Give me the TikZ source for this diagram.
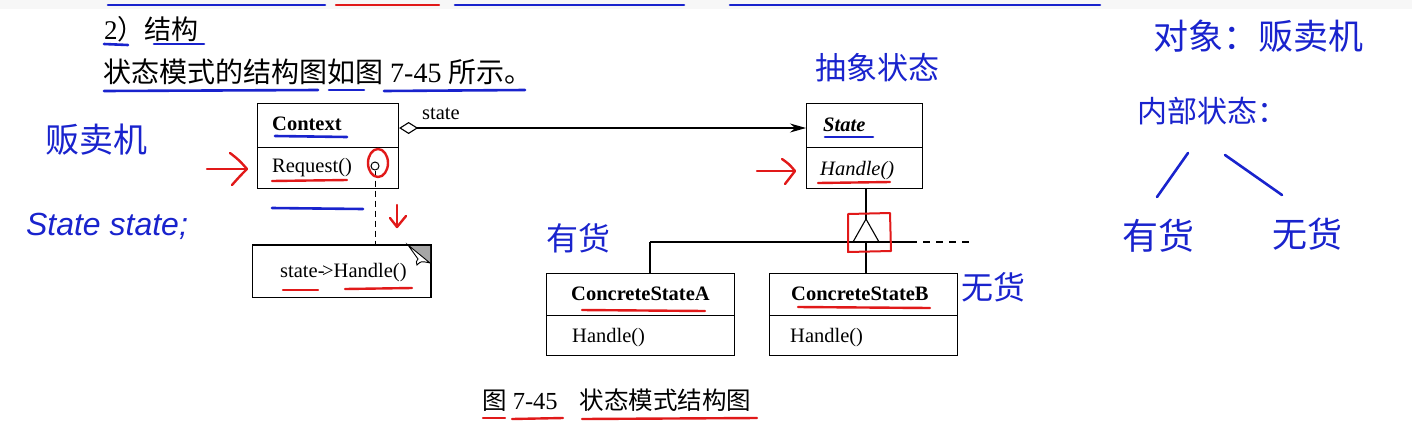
\documentclass[tikz,border=0pt]{standalone}
\usepackage{fontspec}
\setmainfont{Liberation Serif}
\newfontfamily\cjk{Noto Sans CJK SC}
\newfontfamily\handsans{Liberation Sans}
\usetikzlibrary{arrows.meta}
\definecolor{penblue}{RGB}{25,35,205}
\definecolor{penred}{RGB}{225,25,25}
\begin{document}
\begin{tikzpicture}[x=1pt,y=-1pt,
  box/.style={draw, line width=1.1pt, inner sep=0pt, anchor=north west},
  uml/.style={font=\fontsize{20.5}{24}\selectfont, inner sep=0pt, anchor=base west},
  umlline/.style={line width=1.1pt},
  bluepen/.style={draw=penblue, line width=2.6pt, line cap=round, line join=round},
  redpen/.style={draw=penred, line width=2.4pt, line cap=round, line join=round},
  htext/.style={text=penblue, font=\cjk\fontsize{#1}{#1}\selectfont, inner sep=0pt},
  booktext/.style={inner sep=0pt, anchor=base west}
]
\useasboundingbox (0,0) rectangle (1412,437);
\fill[black!3] (0,0) rectangle (1412,9);

% ---------- top pen marks ----------
\draw[bluepen] (108,5) -- (325,5);
\draw[redpen] (336,5) -- (439,5);
\draw[bluepen] (455,5) -- (684,5);
\draw[bluepen] (730,5) -- (1100,5);

% ---------- book text ----------
\node[booktext, font=\fontsize{27}{30}\selectfont] (head) at (104,39) {2{\cjk ）结构}};
\node[booktext, font=\fontsize{28}{30}\selectfont] (intro) at (103,82) {{\cjk 状态模式的结构图如图} 7-45 {\cjk 所示。}};
\draw[bluepen] (104,44) -- (128,45);
\draw[bluepen] (154,44) -- (204,44);
\draw[bluepen] (104,91) -- (318,90);
\draw[bluepen] (329,90) -- (364,90);
\draw[bluepen] (384,91) -- (525,90);

% ---------- Context ----------
\node[box, minimum width=141pt, minimum height=44pt] (ctxname) at (257,103) {};
\node[box, minimum width=141pt, minimum height=41pt] (ctxop) at (257,147) {};
\node[uml] (ctxlabel) at (272,130) {\textbf{Context}};
\node[uml] (reqlabel) at (272,172) {Request()};
\node[draw, circle, minimum size=8pt, inner sep=0pt, line width=1pt] (reqdot) at (375,166) {};

% ---------- note ----------
\node[box, minimum width=178pt, minimum height=52pt] (notebox) at (252,245) {};
\fill[gray!70] (408,245) -- (430,245) -- (430,263) -- cycle;
\filldraw[fill=white, line width=0.9pt] (408,245) -- (418,259) .. controls (416,262) .. (417,265) .. controls (421,261) .. (430,263) -- cycle;
\draw[umlline] (notebox.north west) -- (notebox.north east) -- (notebox.south east);
\node[uml] (notetext) at (280,277) {state-\kern-0.12em>Handle()};
\draw[line width=1pt, dash pattern=on 6pt off 4pt] (reqdot.south) -- (reqdot.south |- notebox.north);

% ---------- State ----------
\node[box, minimum width=116pt, minimum height=44pt] (stname) at (806,103) {};
\node[box, minimum width=116pt, minimum height=41pt] (stop) at (806,147) {};
\node[uml] (stlabel) at (823,131) {\textbf{\textit{State}}};
\node[uml] (sthandle) at (820,175) {\textit{Handle()}};

% aggregation
\coordinate (aggy) at (0,128);
\draw[umlline, {Diamond[open, length=19pt, width=12pt]}-{Stealth[length=16pt, width=9pt]}]
  (ctxname.east |- aggy) -- (stname.west |- aggy);
\node[uml] (statelbl) at (422,119) {state};

% ---------- concrete states ----------
\node[box, minimum width=188pt, minimum height=42pt] (csaname) at (546,273) {};
\node[box, minimum width=188pt, minimum height=40pt] (csaop) at (546,315) {};
\node[uml] (csalabel) at (571,300) {\textbf{ConcreteStateA}};
\node[uml] (csahandle) at (572,342) {Handle()};

\node[box, minimum width=188pt, minimum height=42pt] (csbname) at (769,273) {};
\node[box, minimum width=188pt, minimum height=40pt] (csbop) at (769,315) {};
\node[uml] (csblabel) at (791,300) {\textbf{ConcreteStateB}};
\node[uml] (csbhandle) at (790,342) {Handle()};

% generalization
\coordinate (apex) at (866,219);
\coordinate (J) at (866,242);
\coordinate (Aj) at (650,242);
\coordinate (Dend) at (910,242);
\coordinate (Dashend) at (975,242);
\draw[umlline] (stop.south -| apex) -- (apex);
\draw[umlline, line join=miter] (apex) -- ++(-13,23) -- ++(26,0) -- cycle;
\draw[umlline] (Aj) -- (Dend);
\draw[umlline, dash pattern=on 7pt off 6pt] (Dend) -- (Dashend);
\draw[umlline] (Aj) -- (Aj |- csaname.north);
\draw[umlline] (J) -- (J |- csbname.north);

% ---------- caption ----------
\node[booktext, font=\fontsize{24.5}{28}\selectfont] (caption) at (482,409) {{\cjk 图} 7-45\hspace{0.9em}{\cjk 状态模式结构图}};
\draw[redpen] (483,418) -- (505,418);
\draw[redpen] (512,419) -- (563,418);
\draw[redpen] (582,419) -- (757,418);

% ---------- pen marks on diagram ----------
\draw[bluepen] (275,136) -- (347,137);
\draw[redpen] (272,181) -- (347,180);
\draw[redpen] (378,163) ellipse [x radius=10pt, y radius=14pt];
\draw[redpen] (397,205) -- (397,227);
\draw[redpen] (390,218) -- (397,227) -- (406,216);
\draw[bluepen] (272,208) -- (363,209);
\draw[redpen] (283,290) -- (318,290);
\draw[redpen] (345,289) -- (412,288);
\draw[redpen] (207,169) -- (246,169);
\draw[redpen] (230,153) .. controls (239,160) .. (247,169) .. controls (240,176) .. (232,185);
\draw[redpen] (757,171) -- (794,171);
\draw[redpen] (782,159) .. controls (789,164) .. (795,171) .. controls (790,177) .. (785,184);
\draw[bluepen] (825,137) -- (873,137);
\draw[redpen] (818,183) -- (890,182);
\draw[redpen] (582,310) -- (705,311);
\draw[redpen] (798,307) -- (930,308);
\draw[redpen, line width=2pt] (848,214) -- (890,213) -- (891,251) -- (848,252) -- cycle;

% ---------- handwritten notes ----------
\node[htext=34] (hvend) at (96,140) {贩卖机};
\node[text=penblue, font=\handsans\itshape\fontsize{32}{34}\selectfont, inner sep=0pt] (hstate) at (107,226) {State state;};
\node[htext=31] (habs) at (877,68) {抽象状态};
\node[htext=32] (hhasA) at (578,238) {有货};
\node[htext=32] (hnoB) at (993,287) {无货};
\node[htext=35] (hobj) at (1258,36) {对象：贩卖机};
\node[htext=30] (hinner) at (1212,111) {内部状态：};
\node[htext=36] (hhas) at (1158,236) {有货};
\node[htext=35] (hno) at (1307,234) {无货};
\draw[bluepen] (1188,153) -- (1157,197);
\draw[bluepen] (1225,155) -- (1282,195);
\end{tikzpicture}
\end{document}
